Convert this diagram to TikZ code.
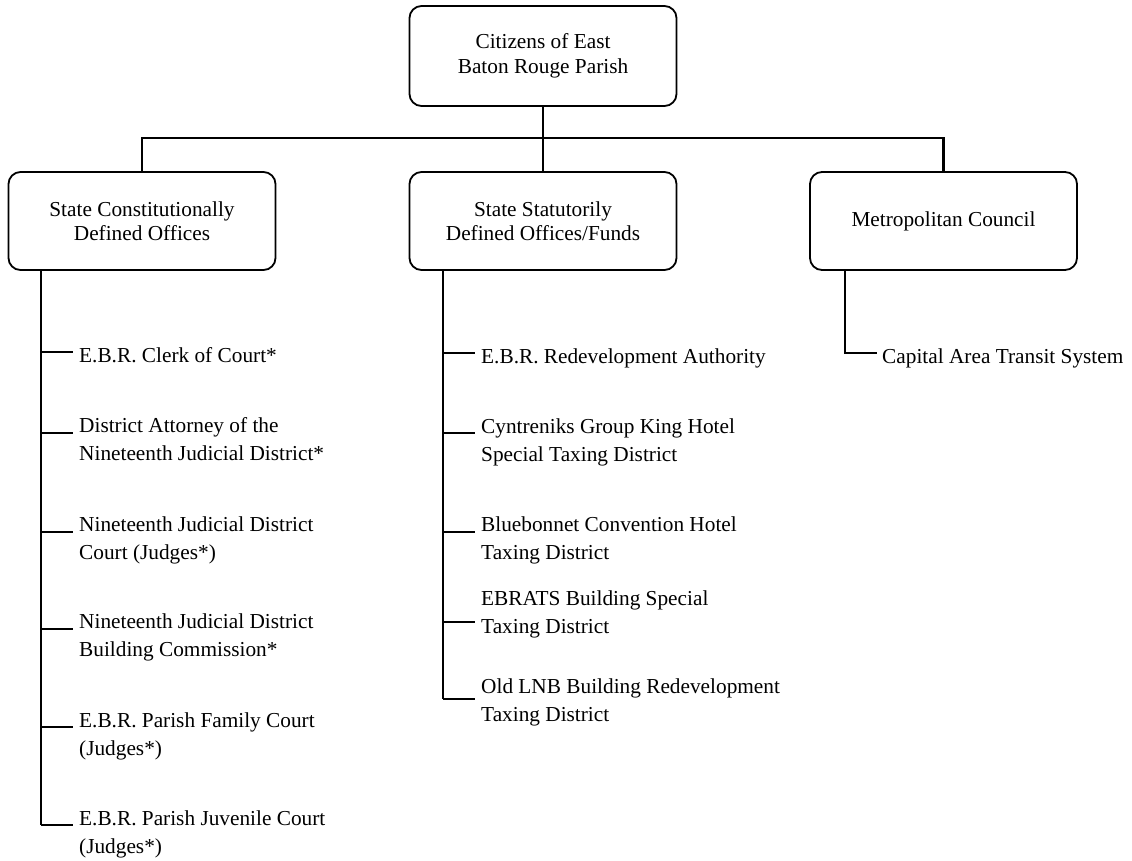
\documentclass[tikz,border=0pt]{standalone}
\usepackage{fontspec}
\setmainfont{Liberation Serif}
\newcommand\itemlines[1]{\begin{tabular}[t]{@{}l@{}}#1\end{tabular}}
\begin{document}
\begin{tikzpicture}[x=1pt,y=-1pt,
  orgbox/.style={draw, line width=1.8pt, rounded corners=12pt, minimum width=267pt,
    minimum height=98pt, align=center, inner sep=0pt,
    font=\fontsize{21.3}{24.5}\selectfont},
  listtext/.style={anchor=base west, inner sep=0pt,
    font=\fontsize{21.3}{28.5}\selectfont},
  conn/.style={line width=2.6pt},
  branch/.style={line width=2pt}]
\useasboundingbox (0,0) rectangle (1132,860);

% boxes
\node[orgbox, minimum height=100pt] (top) at (543,56) {Citizens of East\\Baton Rouge Parish};
\node[orgbox] (boxA) at (142,221) {State Constitutionally\\Defined Offices};
\node[orgbox] (boxB) at (543,221) {State Statutorily\\Defined Offices/Funds};
\node[orgbox] (boxC) at (943.5,221) {Metropolitan Council};

% top connectors
\coordinate (bar) at (543,138);
\draw[conn] (top.south) -- (boxB.north);
\draw[conn] (boxA.north) -- (boxA.north |- bar) -- (boxC.north |- bar) -- (boxC.north);

% left column
\coordinate (sA) at (40.7,825);
\draw[branch] (boxA.south -| sA) -- (sA);
\foreach \n/\y in {1/352,2/433,3/532,4/629,5/727,6/825}{
  \coordinate (a\n) at (73,\y);
  \draw[branch] (a\n -| sA) -- (a\n);
}
\node[listtext] (ta1) at (79,362) {\itemlines{E.B.R. Clerk of Court*}};
\node[listtext] (ta2) at (79,432) {\itemlines{District Attorney of the\\Nineteenth Judicial District*}};
\node[listtext] (ta3) at (79,531) {\itemlines{Nineteenth Judicial District\\Court (Judges*)}};
\node[listtext] (ta4) at (79,628) {\itemlines{Nineteenth Judicial District\\Building Commission*}};
\node[listtext] (ta5) at (79,727) {\itemlines{E.B.R. Parish Family Court\\(Judges*)}};
\node[listtext] (ta6) at (79,825) {\itemlines{E.B.R. Parish Juvenile Court\\(Judges*)}};

% middle column
\coordinate (sB) at (443,699);
\draw[branch] (boxB.south -| sB) -- (sB);
\foreach \n/\y in {1/353,2/433,3/532,4/622,5/699}{
  \coordinate (b\n) at (475,\y);
  \draw[branch] (b\n -| sB) -- (b\n);
}
\node[listtext] (tb1) at (481,363) {\itemlines{E.B.R. Redevelopment Authority}};
\node[listtext] (tb2) at (481,433) {\itemlines{Cyntreniks Group King Hotel\\Special Taxing District}};
\node[listtext] (tb3) at (481,531) {\itemlines{Bluebonnet Convention Hotel\\Taxing District}};
\node[listtext] (tb4) at (481,605) {\itemlines{EBRATS Building Special\\Taxing District}};
\node[listtext] (tb5) at (481,693) {\itemlines{Old LNB Building Redevelopment\\Taxing District}};

% right column
\coordinate (sC) at (845,353);
\coordinate (c1) at (877,353);
\draw[branch] (boxC.south -| sC) -- (sC) -- (c1);
\node[listtext] (tc1) at (882,363) {\itemlines{Capital Area Transit System}};
\end{tikzpicture}
\end{document}
